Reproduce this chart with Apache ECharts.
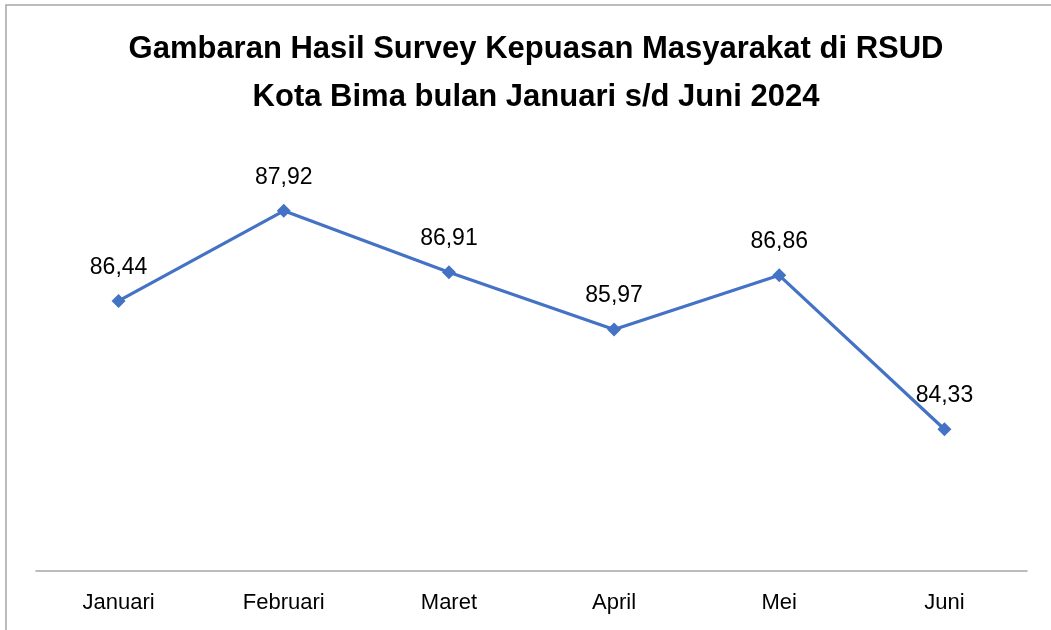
<!DOCTYPE html>
<html style="height: 100%">
<head>
    <meta charset="UTF-8">
    <title>Survey Kepuasan Masyarakat RSUD Kota Bima</title>
    <script src="https://cdn.jsdelivr.net/npm/echarts@6/dist/echarts.min.js"></script>
    <style>
        #main { width: 1051px; height: 630px; }
    </style>
</head>
<body style="margin: 0; background: #fff">
    <div id="main"></div>
    <script type="text/javascript">
        var months = ['Januari', 'Februari', 'Maret', 'April', 'Mei', 'Juni'];
        var scores = [86.44, 87.92, 86.91, 85.97, 86.86, 84.33];

        var fontNarrow = '"Liberation Sans Narrow", "Arial Narrow", "Liberation Sans", Arial, sans-serif';

        var chartDom = document.getElementById('main');
        var myChart = echarts.init(chartDom);

        var option = {
            backgroundColor: '#fff',
            animation: false,
            title: {
                text: 'Gambaran Hasil Survey Kepuasan Masyarakat di RSUD\nKota Bima bulan Januari s/d Juni 2024',
                left: 531,
                top: 20,
                textAlign: 'center',
                textStyle: {
                    fontFamily: fontNarrow,
                    fontSize: 31,
                    fontWeight: 'bold',
                    color: '#000',
                    lineHeight: 48
                }
            },
            graphic: [{
                type: 'rect',
                shape: { x: 6, y: 5, width: 1060, height: 640 },
                style: { fill: 'none', stroke: '#a6a6a6', lineWidth: 1.5 },
                silent: true
            }],
            grid: {
                left: 36,
                right: 24,
                top: 206,
                bottom: 59
            },
            xAxis: {
                type: 'category',
                data: months,
                boundaryGap: true,
                axisLine: { lineStyle: { color: '#a6a6a6', width: 1.5 } },
                axisTick: { show: false },
                axisLabel: {
                    margin: 21,
                    fontFamily: fontNarrow,
                    fontSize: 22,
                    color: '#000'
                }
            },
            yAxis: {
                type: 'value',
                min: 82,
                max: 88,
                show: false
            },
            series: [{
                type: 'line',
                data: scores,
                symbol: 'diamond',
                symbolSize: 14,
                itemStyle: { color: '#4472C4' },
                lineStyle: { color: '#4472C4', width: 3.2 },
                label: {
                    show: true,
                    position: 'top',
                    distance: 15,
                    fontFamily: fontNarrow,
                    fontSize: 23,
                    color: '#000',
                    formatter: function (p) {
                        return p.value.toFixed(2).replace('.', ',');
                    }
                }
            }]
        };

        myChart.setOption(option);
    </script>
</body>
</html>
